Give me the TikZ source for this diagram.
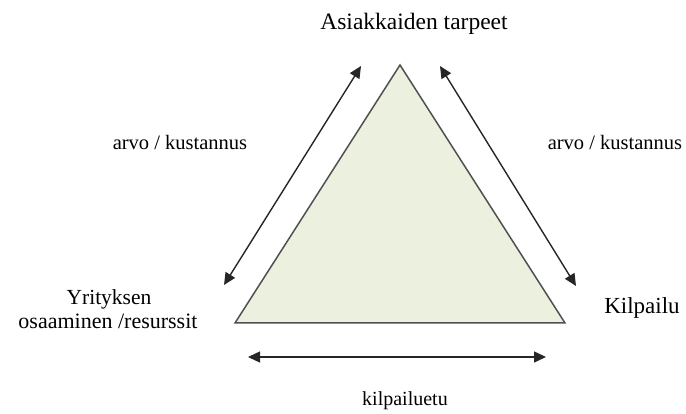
\documentclass[tikz,border=0pt]{standalone}
\usepackage{fontspec}
\setmainfont{Liberation Serif}
\usetikzlibrary{arrows.meta}
\definecolor{trifill}{HTML}{EBF1DE}
\definecolor{triedge}{HTML}{505050}
\tikzset{
  lbl/.style={font=\fontsize{20}{24}\selectfont, text=black, inner sep=0pt, anchor=base, align=center},
  dbl/.style={line width=1.4pt, draw=black!85, {Triangle[length=12pt,width=11pt]}-{Triangle[length=12pt,width=11pt]}},
  tri/.style={fill=trifill, draw=triedge, line width=1.5pt, line join=miter}
}
\begin{document}
\begin{tikzpicture}[x=1pt,y=-1pt]
\useasboundingbox (0,0) rectangle (686,414);
% triangle
\coordinate (apex) at (400,65);
\coordinate (bl) at (235,323);
\coordinate (br) at (565,323);
\draw[tri] (apex) -- (bl) -- (br) -- cycle;
% arrow ends
\coordinate (la1) at (361,66);
\coordinate (la2) at (224,285);
\coordinate (ra1) at (440,66);
\coordinate (ra2) at (576,286);
\coordinate (ba1) at (248,357);
\coordinate (ba2) at (546,357);
\draw[dbl] (la1) -- (la2);
\draw[dbl] (ra1) -- (ra2);
\draw[dbl] (ba1) -- (ba2);
% labels
\node[lbl, font=\fontsize{23.5}{28}\selectfont] (top) at (414,30) {Asiakkaiden tarpeet};
\node[lbl, font=\fontsize{20.5}{24}\selectfont] (lcost) at (180,150) {arvo / kustannus};
\node[lbl, font=\fontsize{20.5}{24}\selectfont] (rcost) at (615,150) {arvo / kustannus};
\node[lbl, font=\fontsize{21.5}{26}\selectfont] (yr1) at (109,305) {Yrityksen};
\node[lbl, font=\fontsize{22}{26}\selectfont] (yr2) at (108,329) {osaaminen /resurssit};
\node[lbl, font=\fontsize{23}{27}\selectfont] (kil) at (642,313) {Kilpailu};
\node[lbl] (etu) at (405,405) {kilpailuetu};
\end{tikzpicture}
\end{document}
